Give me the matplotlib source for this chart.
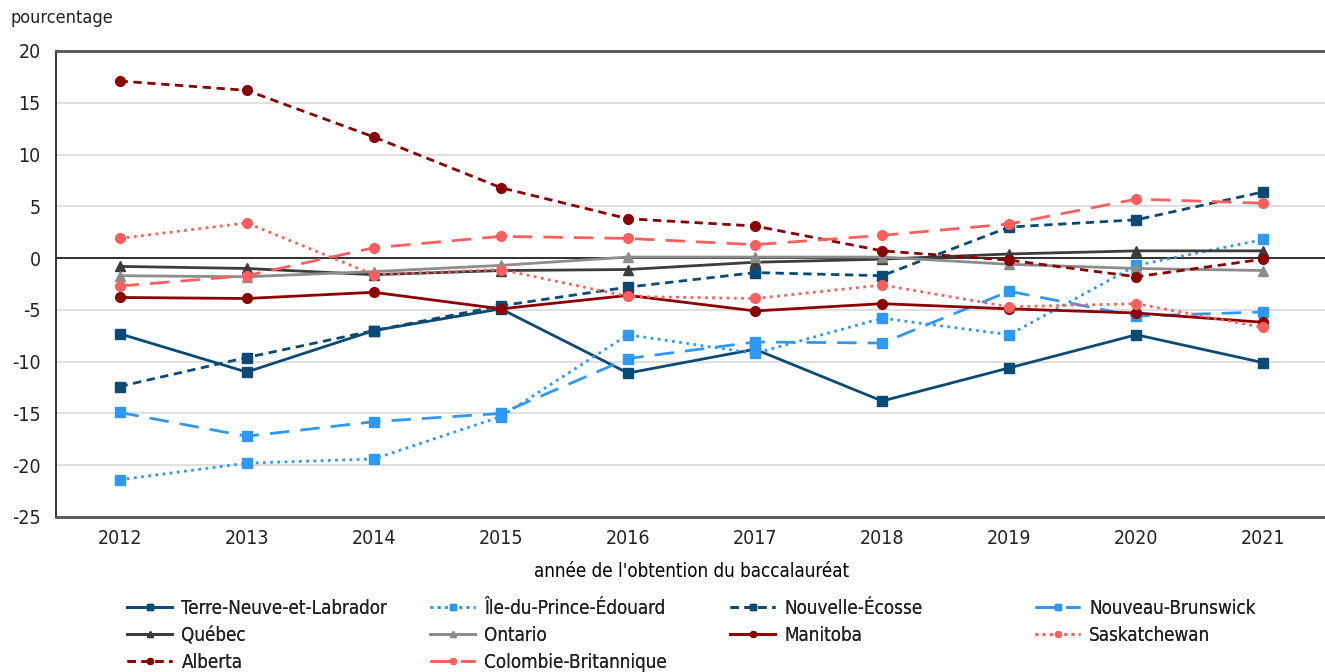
import numpy as np
import matplotlib
matplotlib.use("Agg")
import matplotlib.pyplot as plt

years = list(range(2012, 2022))

tnl = [-7.3, -11.0, -7.0, -4.9, -11.1, -8.8, -13.8, -10.6, -7.4, -10.1]
ipe = [-21.4, -19.8, -19.4, -15.3, -7.4, -9.2, -5.8, -7.4, -0.7, 1.8]
ne = [-12.4, -9.6, -7.0, -4.6, -2.8, -1.4, -1.7, 3.0, 3.7, 6.4]
nb = [-14.9, -17.2, -15.8, -15.0, -9.7, -8.1, -8.2, -3.2, -5.6, -5.2]
qc = [-0.8, -1.0, -1.6, -1.2, -1.1, -0.4, -0.1, 0.4, 0.7, 0.7]
on = [-1.7, -1.8, -1.3, -0.7, 0.1, 0.1, 0.1, -0.6, -1.0, -1.2]
mb = [-3.8, -3.9, -3.3, -4.9, -3.6, -5.1, -4.4, -4.9, -5.3, -6.2]
sk = [1.9, 3.4, -1.6, -1.1, -3.7, -3.9, -2.6, -4.7, -4.4, -6.7]
ab = [17.1, 16.2, 11.7, 6.8, 3.8, 3.1, 0.7, -0.2, -1.8, -0.1]
cb = [-2.7, -1.7, 1.0, 2.1, 1.9, 1.3, 2.2, 3.3, 5.7, 5.3]

DARK_BLUE = "#0b4a75"
LIGHT_BLUE = "#2e98f5"
DARK_GRAY = "#3c3c3c"
GRAY = "#8c8c8c"
DARK_RED = "#8b0000"
SALMON = "#ff5e5e"

SOLID = "-"
DOTTED = (0, (1, 1.6))
SHORT_DASH = (0, (3, 2))
LONG_DASH = (0, (7, 4))

series = [
    ("Terre-Neuve-et-Labrador", tnl, DARK_BLUE, SOLID, "s"),
    ("Île-du-Prince-Édouard", ipe, LIGHT_BLUE, DOTTED, "s"),
    ("Nouvelle-Écosse", ne, DARK_BLUE, SHORT_DASH, "s"),
    ("Nouveau-Brunswick", nb, LIGHT_BLUE, LONG_DASH, "s"),
    ("Québec", qc, DARK_GRAY, SOLID, "^"),
    ("Ontario", on, GRAY, SOLID, "^"),
    ("Manitoba", mb, DARK_RED, SOLID, "o"),
    ("Saskatchewan", sk, SALMON, DOTTED, "o"),
    ("Alberta", ab, DARK_RED, SHORT_DASH, "o"),
    ("Colombie-Britannique", cb, SALMON, LONG_DASH, "o"),
]

plt.rcParams.update({
    "font.family": "DejaVu Sans",
    "font.stretch": "condensed",
    "font.size": 13.5,
    "axes.unicode_minus": False,
    "text.color": "#222222",
    "xtick.color": "#222222",
    "ytick.color": "#222222",
})

fig = plt.figure(figsize=(13.25, 6.72), dpi=100)
ax = fig.add_axes([56 / 1325, 1 - 517 / 672, 1271 / 1325, 466 / 672])

handles = {}
for name, vals, color, ls, mk in series:
    ms = 7 if mk != "^" else 7.5
    line, = ax.plot(years, vals, color=color, linestyle=ls, linewidth=2.0,
                    marker=mk, markersize=ms, label=name, zorder=3)
    handles[name] = line

ax.axhline(0, color="#222222", linewidth=1.3, zorder=2)

ax.set_xlim(2011.5, 2021.5)
ax.set_ylim(-25, 20)
ax.set_yticks(np.arange(-25, 21, 5))
ax.set_xticks(years)
ax.yaxis.grid(True, color="#d9d9d9", linewidth=1.2)
ax.set_axisbelow(True)

ax.spines["right"].set_visible(False)
ax.spines["top"].set_color("#555555")
ax.spines["top"].set_linewidth(2.0)
ax.spines["bottom"].set_color("#555555")
ax.spines["bottom"].set_linewidth(2.0)
ax.spines["left"].set_color("#222222")
ax.spines["left"].set_linewidth(1.3)
ax.tick_params(length=0, pad=9, labelsize=14)
ax.tick_params(axis="y", pad=11)

ax.set_xlabel("année de l'obtention du baccalauréat", fontsize=13.5, labelpad=10)
fig.text(10 / 1325, 1 - 18 / 672, "pourcentage", fontsize=13, ha="left", va="center")

# one legend per column, placed at the reference's column positions
columns = [
    (127, ["Terre-Neuve-et-Labrador", "Québec", "Alberta"]),
    (430, ["Île-du-Prince-Édouard", "Ontario", "Colombie-Britannique"]),
    (730, ["Nouvelle-Écosse", "Manitoba"]),
    (1035, ["Nouveau-Brunswick", "Saskatchewan"]),
]
for xpix, names in columns:
    leg = fig.legend(
        [handles[n] for n in names], names,
        loc="upper left", bbox_to_anchor=(xpix / 1325, 1 - 599 / 672),
        frameon=False, fontsize=13.5, markerscale=0.6,
        handlelength=2.4, handletextpad=0.5,
        labelspacing=0.42, borderpad=0.0, borderaxespad=0.0,
    )
    fig.add_artist(leg)

fig.savefig("out.png", dpi=100)
